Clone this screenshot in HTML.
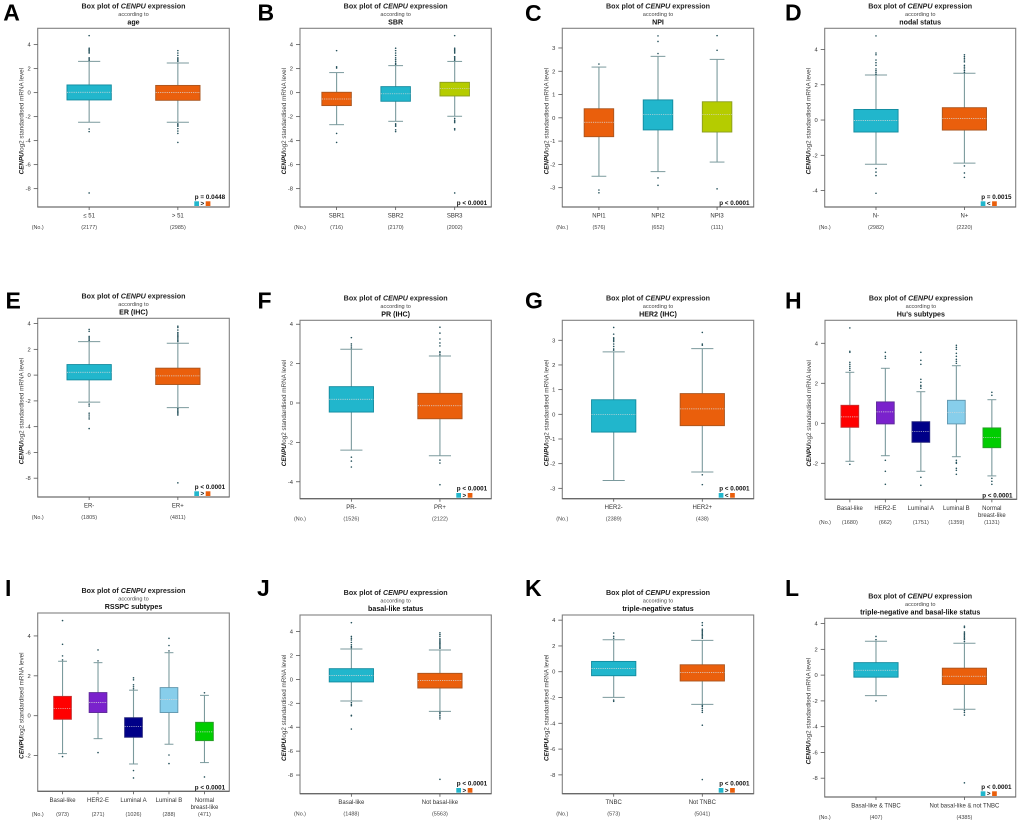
<!DOCTYPE html>
<html lang="en">
<head>
<meta charset="utf-8">
<title>CENPU expression box plots</title>
<style>
html,body{margin:0;padding:0;background:#fff;width:1020px;height:823px;overflow:hidden}
svg{display:block;filter:blur(0.3px)}
text{font-family:"Liberation Sans",Arial,sans-serif}
</style>
</head>
<body>
<svg id="figure" xmlns="http://www.w3.org/2000/svg" width="1020" height="823" viewBox="0 0 1020 823"></svg>
<script>
// ---------- DATA ----------
const categoriesA = ['≤ 51', '> 51'];
const countsA = [2177, 2985];
const ticksA = [-8, -6, -4, -2, 0, 2, 4];
const lowA = [-2.47, -2.47];
const q1A = [-0.61, -0.64];
const medianA = [0.03, 0];
const q3A = [0.64, 0.6];
const highA = [2.6, 2.47];
const outliersA = [[4.75, 3.7, 3.6, 3.5, 3.4, 3.3, 2.9, 2.8, 2.7, -3.03, -3.25, -8.36], [3.5, 3.3, 3.1, 2.9, 2.8, 2.7, 2.6, -2.6, -2.7, -2.8, -3, -3.2, -3.4, -4.15]];

const categoriesB = ['SBR1', 'SBR2', 'SBR3'];
const countsB = [716, 2170, 2002];
const ticksB = [-8, -6, -4, -2, 0, 2, 4];
const lowB = [-2.67, -2.39, -1.97];
const q1B = [-1.08, -0.72, -0.28];
const medianB = [-0.53, -0.1, 0.33];
const q3B = [0.03, 0.5, 0.86];
const highB = [1.67, 2.25, 2.6];
const outliersB = [[3.5, 2.15, 2.05, -3.4, -4.15], [3.7, 3.5, 3.3, 3.1, 2.9, 2.75, 2.6, 2.45, 2.35, -2.6, -2.7, -2.8, -3.1, -3.25], [4.75, 3.7, 3.6, 3.5, 3.4, 3.3, 3, 2.9, 2.8, 2.7, -2.15, -2.3, -2.4, -2.5, -3, -3.1, -8.36]];

const categoriesC = ['NPI1', 'NPI2', 'NPI3'];
const countsC = [576, 652, 111];
const ticksC = [-3, -2, -1, 0, 1, 2, 3];
const lowC = [-2.51, -2.31, -1.9];
const q1C = [-0.81, -0.52, -0.61];
const medianC = [-0.19, 0.15, 0.15];
const q3C = [0.39, 0.77, 0.69];
const highC = [2.18, 2.64, 2.51];
const outliersC = [[2.31, -3.1, -3.22], [3.52, 3.28, 2.76, -2.58, -2.9], [3.53, 2.9, -3.05]];

const categoriesD = ['N-', 'N+'];
const countsD = [2982, 2220];
const ticksD = [-4, -2, 0, 2, 4];
const lowD = [-2.51, -2.44];
const q1D = [-0.68, -0.57];
const medianD = [-0.02, 0.08];
const q3D = [0.6, 0.7];
const highD = [2.55, 2.65];
const outliersD = [[4.77, 3.8, 3.7, 3.4, 3.25, 3.1, 2.9, 2.8, 2.7, 2.6, -2.75, -2.95, -3.15, -4.15], [3.7, 3.6, 3.5, 3.4, 3.3, 3.1, 3, 2.9, 2.8, 2.7, -2.6, -3, -3.25]];

const categoriesE = ['ER-', 'ER+'];
const countsE = [1805, 4811];
const ticksE = [-8, -6, -4, -2, 0, 2, 4];
const lowE = [-2.1, -2.52];
const q1E = [-0.37, -0.73];
const medianE = [0.22, -0.06];
const q3E = [0.82, 0.54];
const highE = [2.6, 2.47];
const outliersE = [[3.55, 3.4, 3, 2.9, 2.8, 2.7, -2.25, -2.4, -2.95, -3.1, -3.25, -3.4, -4.15], [3.8, 3.7, 3.5, 3.3, 3.2, 3.1, 3, 2.9, 2.8, 2.7, 2.6, -2.6, -2.7, -2.8, -2.9, -3, -3.1, -8.36]];

const categoriesF = ['PR-', 'PR+'];
const countsF = [1526, 2122];
const ticksF = [-4, -2, 0, 2, 4];
const lowF = [-2.39, -2.68];
const q1F = [-0.46, -0.8];
const medianF = [0.19, -0.14];
const q3F = [0.83, 0.49];
const highF = [2.73, 2.39];
const outliersF = [[3.32, 3, 2.9, 2.8, -2.75, -2.95, -3.25], [3.85, 3.55, 3.25, 3.05, 2.9, 2.6, 2.55, 2.45, -2.9, -3.05, -4.15]];

const categoriesG = ['HER2-', 'HER2+'];
const countsG = [2389, 438];
const ticksG = [-3, -2, -1, 0, 1, 2, 3];
const lowG = [-2.68, -2.34];
const q1G = [-0.72, -0.46];
const medianG = [0, 0.22];
const q3G = [0.59, 0.84];
const highG = [2.53, 2.66];
const outliersG = [[3.52, 3.25, 3.1, 3.05, 3, 2.95, 2.85, 2.75, 2.65, 2.6], [3.32, 2.85, 2.8, -2.45, -2.85]];

const categoriesH = ['Basal-like', 'HER2-E', 'Luminal A', 'Luminal B', 'Normal\nbreast-like'];
const countsH = [1680, 662, 1751, 1359, 1131];
const ticksH = [-2, 0, 2, 4];
const lowH = [-1.9, -1.62, -2.4, -1.67, -2.63];
const q1H = [-0.2, -0.03, -0.95, -0.03, -1.22];
const medianH = [0.32, 0.57, -0.4, 0.55, -0.7];
const q3H = [0.9, 1.07, 0.08, 1.15, -0.23];
const highH = [2.55, 2.75, 1.58, 2.88, 1.18];
const outliersH = [[4.77, 3.6, 3.55, 3.05, 2.95, 2.85, 2.75, 2.65, -2.05], [3.55, 3.35, 3.25, -1.85, -2.4, -3.05], [3.55, 3.15, 2.95, 2.2, 2.05, 1.9, 1.85, 1.75, -2.7, -3.1], [3.9, 3.8, 3.7, 3.5, 3.35, 3.2, 3.1, 3, -1.85, -1.95, -2, -2.25, -2.35, -2.55], [1.55, 1.4, -2.75, -2.9, -3.05]];

const categoriesI = ['Basal-like', 'HER2-E', 'Luminal A', 'Luminal B', 'Normal\nbreast-like'];
const countsI = [973, 271, 1026, 288, 471];
const ticksI = [-2, 0, 2, 4];
const lowI = [-1.9, -1.15, -2.42, -1.43, -2.35];
const q1I = [-0.18, 0.16, -1.08, 0.16, -1.25];
const medianI = [0.37, 0.67, -0.55, 0.82, -0.81];
const q3I = [0.97, 1.16, -0.1, 1.41, -0.33];
const highI = [2.73, 2.66, 1.28, 3.16, 1.02];
const outliersI = [[4.77, 3.58, 3, 2.8, -2.05], [3.3, 2.75, -1.85], [1.9, 1.8, 1.55, 1.45, 1.35, -2.75, -3.12], [3.88, 3.52, 3.25, -1.97, -2.4], [1.15, -3.07]];

const categoriesJ = ['Basal-like', 'Not basal-like'];
const countsJ = [1488, 5563];
const ticksJ = [-8, -6, -4, -2, 0, 2, 4];
const lowJ = [-1.8, -2.67];
const q1J = [-0.21, -0.72];
const medianJ = [0.32, -0.08];
const q3J = [0.9, 0.51];
const highJ = [2.55, 2.46];
const outliersJ = [[4.75, 3.6, 3.45, 3.3, 3.1, 2.9, 2.75, 2.65, -1.95, -2.1, -2.2, -3, -3.05, -4.15], [3.9, 3.75, 3.6, 3.4, 3.3, 3.2, 3.1, 3, 2.9, 2.8, 2.7, 2.6, -2.75, -2.85, -3, -3.15, -3.3, -8.36]];

const categoriesK = ['TNBC', 'Not TNBC'];
const countsK = [573, 5041];
const ticksK = [-8, -6, -4, -2, 0, 2, 4];
const lowK = [-1.99, -2.53];
const q1K = [-0.31, -0.72];
const medianK = [0.26, -0.05];
const q3K = [0.8, 0.54];
const highK = [2.48, 2.43];
const outliersK = [[3, 2.75, 2.6, -2.2, -2.3], [3.8, 3.6, 3.3, 3.2, 3.1, 3, 2.9, 2.8, 2.7, 2.6, -2.6, -2.7, -2.85, -3, -3.15, -4.15, -8.36]];

const categoriesL = ['Basal-like & TNBC', 'Not basal-like & not TNBC'];
const countsL = [407, 4385];
const ticksL = [-8, -6, -4, -2, 0, 2, 4];
const lowL = [-1.59, -2.65];
const q1L = [-0.16, -0.73];
const medianL = [0.38, -0.09];
const q3L = [0.97, 0.54];
const highL = [2.63, 2.47];
const outliersL = [[3, 2.75, -2], [3.8, 3.7, 3.35, 3.25, 3.15, 3.05, 2.95, 2.85, 2.75, 2.6, -2.75, -2.9, -3.1, -8.36]];

// ---------- STYLE / LAYOUT ----------
const TEAL = ['#21b6cc', '#128a9e'];
const ORANGE = ['#ea5f0c', '#a9551f'];
const OLIVE = ['#b5cc00', '#8a9c20'];
const RED = ['#ff0000', '#c43030'];
const PURPLE = ['#7a22cc', '#5c2a96'];
const NAVY = ['#000088', '#26267a'];
const SKY = ['#87ceeb', '#5f95ad'];
const GREEN = ['#00cd00', '#2a9a2a'];

const panels = [
  {id:'A', letterX:3.3, letterY:20.7, L:37.7, T:28.3, R:229.3, B:207, dom:[5.36,-9.53], subtitle:'age', cols:[TEAL,ORANGE], p:'p = 0.0448', sym:'>', cat:categoriesA, cnt:countsA, tk:ticksA, lo:lowA, q1:q1A, md:medianA, q3:q3A, hi:highA, out:outliersA},
  {id:'B', letterX:257.5, letterY:20.7, L:300, T:28.3, R:491.3, B:207, dom:[5.36,-9.53], subtitle:'SBR', cols:[ORANGE,TEAL,OLIVE], p:'p < 0.0001', sym:null, cat:categoriesB, cnt:countsB, tk:ticksB, lo:lowB, q1:q1B, md:medianB, q3:q3B, hi:highB, out:outliersB},
  {id:'C', letterX:525, letterY:21, L:562.3, T:28.3, R:753.7, B:207, dom:[3.845,-3.83], subtitle:'NPI', cols:[ORANGE,TEAL,OLIVE], p:'p < 0.0001', sym:null, cat:categoriesC, cnt:countsC, tk:ticksC, lo:lowC, q1:q1C, md:medianC, q3:q3C, hi:highC, out:outliersC},
  {id:'D', letterX:785, letterY:20.7, L:824.7, T:28.3, R:1015.7, B:207, dom:[5.2,-4.93], subtitle:'nodal status', cols:[TEAL,ORANGE], p:'p = 0.0015', sym:'<', cat:categoriesD, cnt:countsD, tk:ticksD, lo:lowD, q1:q1D, md:medianD, q3:q3D, hi:highD, out:outliersD},
  {id:'E', letterX:5.5, letterY:308.3, L:37.7, T:318.3, R:229.3, B:497, dom:[4.41,-9.46], subtitle:'ER (IHC)', cols:[TEAL,ORANGE], p:'p < 0.0001', sym:'>', cat:categoriesE, cnt:countsE, tk:ticksE, lo:lowE, q1:q1E, md:medianE, q3:q3E, hi:highE, out:outliersE},
  {id:'F', letterX:257.5, letterY:308.3, L:300, T:320.3, R:491.3, B:498.7, dom:[4.2,-4.86], subtitle:'PR (IHC)', cols:[TEAL,ORANGE], p:'p < 0.0001', sym:'>', cat:categoriesF, cnt:countsF, tk:ticksF, lo:lowF, q1:q1F, md:medianF, q3:q3F, hi:highF, out:outliersF},
  {id:'G', letterX:525, letterY:308.7, L:562.3, T:320.3, R:753.7, B:498.7, dom:[3.81,-3.42], subtitle:'HER2 (IHC)', cols:[TEAL,ORANGE], p:'p < 0.0001', sym:'<', cat:categoriesG, cnt:countsG, tk:ticksG, lo:lowG, q1:q1G, md:medianG, q3:q3G, hi:highG, out:outliersG},
  {id:'H', letterX:785, letterY:308.7, L:825, T:320.3, R:1016.7, B:499.3, dom:[5.15,-3.8], subtitle:"Hu's subtypes", cols:[RED,PURPLE,NAVY,SKY,GREEN], p:'p < 0.0001', sym:null, cat:categoriesH, cnt:countsH, tk:ticksH, lo:lowH, q1:q1H, md:medianH, q3:q3H, hi:highH, out:outliersH},
  {id:'I', letterX:5, letterY:596, L:37.7, T:613, R:229.3, B:791.3, dom:[5.15,-3.79], subtitle:'RSSPC subtypes', cols:[RED,PURPLE,NAVY,SKY,GREEN], p:'p < 0.0001', sym:null, cat:categoriesI, cnt:countsI, tk:ticksI, lo:lowI, q1:q1I, md:medianI, q3:q3I, hi:highI, out:outliersI},
  {id:'J', letterX:257, letterY:596, L:300, T:615, R:491.3, B:793.7, dom:[5.39,-9.56], subtitle:'basal-like status', cols:[TEAL,ORANGE], p:'p < 0.0001', sym:'>', cat:categoriesJ, cnt:countsJ, tk:ticksJ, lo:lowJ, q1:q1J, md:medianJ, q3:q3J, hi:highJ, out:outliersJ},
  {id:'K', letterX:525, letterY:596, L:562.3, T:615, R:753.7, B:793.7, dom:[4.4,-9.46], subtitle:'triple-negative status', cols:[TEAL,ORANGE], p:'p < 0.0001', sym:'>', cat:categoriesK, cnt:countsK, tk:ticksK, lo:lowK, q1:q1K, md:medianK, q3:q3K, hi:highK, out:outliersK},
  {id:'L', letterX:785, letterY:596, L:824.7, T:618.3, R:1015.7, B:797, dom:[4.41,-9.46], subtitle:'triple-negative and basal-like status', cols:[TEAL,ORANGE], p:'p < 0.0001', sym:'>', cat:categoriesL, cnt:countsL, tk:ticksL, lo:lowL, q1:q1L, md:medianL, q3:q3L, hi:highL, out:outliersL}
];

// ---------- DRAWING ----------
const NS = 'http://www.w3.org/2000/svg';
const figure = document.getElementById('figure');

function make(tag, attrs, parent, content) {
  const node = document.createElementNS(NS, tag);
  for (const k in attrs) node.setAttribute(k, attrs[k]);
  if (content !== undefined) node.textContent = content;
  parent.appendChild(node);
  return node;
}

function drawPanel(cfg) {
  const g = make('g', {}, figure);
  
  

  const n = cfg.cat.length;
  const unit = (cfg.R - cfg.L) / (n * 1.08);
  const xScale = i => cfg.L + unit * (0.5 + 0.04 * n + i);
  const yScale = v => cfg.T + (cfg.dom[0] - v) / (cfg.dom[0] - cfg.dom[1]) * (cfg.B - cfg.T);
  const cx = (cfg.L + cfg.R) / 2;

  const letter = make('text', {x: cfg.letterX, y: cfg.letterY, 'font-size': 23, 'font-weight': 700, fill: '#000'}, g, cfg.id);
  
  

  const title = make('text', {x: cx, y: cfg.T - 20, 'font-size': 7.15, 'font-weight': 700, fill: '#222', 'text-anchor': 'middle'}, g);
  
  
  make('tspan', {}, title, 'Box plot of ');
  make('tspan', {'font-style': 'italic'}, title, 'CENPU');
  make('tspan', {}, title, ' expression');

  const according = make('text', {x: cx, y: cfg.T - 12.3, 'font-size': 5.6, fill: '#444', 'text-anchor': 'middle'}, g, 'according to');
  
  

  const sub = make('text', {x: cx, y: cfg.T - 4, 'font-size': 7.1, 'font-weight': 700, fill: '#111', 'text-anchor': 'middle'}, g, cfg.subtitle);
  
  

  const frame = make('rect', {x: cfg.L, y: cfg.T, width: cfg.R - cfg.L, height: cfg.B - cfg.T, fill: '#fff', stroke: '#808080', 'stroke-width': 1.1}, g);
  
  
  const baseLine = make('line', {x1: cfg.L, x2: cfg.R, y1: cfg.B, y2: cfg.B, stroke: '#555', 'stroke-width': 1}, g);
  
  

  const yTitle = make('text', {transform: 'translate(' + (cfg.L - 14) + ',' + ((cfg.T + cfg.B) / 2 + 3.5) + ') rotate(-90)', 'font-size': 6.3, fill: '#444', 'text-anchor': 'middle'}, g);
  
  
  make('tspan', {'font-style': 'italic', 'font-weight': 700, fill: '#111'}, yTitle, 'CENPU');
  make('tspan', {}, yTitle, 'log2 standardised mRNA level');

  cfg.tk.forEach(function (t) {
    const tick = make('line', {x1: cfg.L - 4, x2: cfg.L, y1: yScale(t), y2: yScale(t), stroke: '#555', 'stroke-width': 0.8}, g);
    
    
    const label = make('text', {x: cfg.L - 7, y: yScale(t) + 2, 'font-size': 5.8, fill: '#333', 'text-anchor': 'end'}, g, String(t));
    
    
  });

  const countY = cfg.B + (n === 5 ? 24.8 : 21.8);
  const noLabel = make('text', {x: cfg.L, y: countY, 'font-size': 5.4, fill: '#444', 'text-anchor': 'middle'}, g, '(No.)');
  
  

  cfg.cat.forEach(function (name, i) {
    const x = xScale(i);
    const boxHalf = unit * 0.25;
    const capHalf = unit * 0.125;
    const group = make('g', {}, g);
    
    

    const xTick = make('line', {x1: x, x2: x, y1: cfg.B, y2: cfg.B + 3, stroke: '#555', 'stroke-width': 0.8}, group);
    
    

    const stem = make('line', {x1: x, x2: x, y1: yScale(cfg.hi[i]), y2: yScale(cfg.lo[i]), stroke: '#7b9a9d', 'stroke-width': 1.1}, group);
    
    
    const capHigh = make('line', {x1: x - capHalf, x2: x + capHalf, y1: yScale(cfg.hi[i]), y2: yScale(cfg.hi[i]), stroke: '#7b9a9d', 'stroke-width': 1}, group);
    
    
    const capLow = make('line', {x1: x - capHalf, x2: x + capHalf, y1: yScale(cfg.lo[i]), y2: yScale(cfg.lo[i]), stroke: '#7b9a9d', 'stroke-width': 1}, group);
    
    

    const box = make('rect', {x: x - boxHalf, y: yScale(cfg.q3[i]), width: boxHalf * 2, height: yScale(cfg.q1[i]) - yScale(cfg.q3[i]), fill: cfg.cols[i][0], stroke: cfg.cols[i][1], 'stroke-width': 0.9}, group);
    
    

    const median = make('line', {x1: x - boxHalf, x2: x + boxHalf, y1: yScale(cfg.md[i]), y2: yScale(cfg.md[i]), stroke: '#d8d8d8', 'stroke-width': 0.7, 'stroke-dasharray': '1.2 1'}, group);
    
    

    cfg.out[i].forEach(function (v) {
      const dot = make('circle', {cx: x, cy: yScale(v), r: 0.8, fill: '#24505a'}, group);
      
      
    });

    name.split('\n').forEach(function (line, j) {
      const label = make('text', {x: x, y: cfg.B + 10.5 + j * 7.4, 'font-size': 6, fill: '#333', 'text-anchor': 'middle'}, group, line);
      
      
    });

    const count = make('text', {x: x, y: countY, 'font-size': 5.5, fill: '#444', 'text-anchor': 'middle'}, group, '(' + cfg.cnt[i] + ')');
    
    
  });

  const pText = make('text', {x: cfg.R - 4.2, y: cfg.sym ? cfg.B - 8 : cfg.B - 2, 'font-size': 6.3, 'font-weight': 700, fill: '#111', 'text-anchor': 'end'}, g, cfg.p);
  
  

  if (cfg.sym) {
    const swatchA = make('rect', {x: cfg.R - 35, y: cfg.B - 5.7, width: 4.7, height: 4.7, fill: cfg.cols[0][0]}, g);
    
    
    const sym = make('text', {x: cfg.R - 27, y: cfg.B - 1.4, 'font-size': 6.3, 'font-weight': 700, fill: '#111', 'text-anchor': 'middle'}, g, cfg.sym);
    
    
    const swatchB = make('rect', {x: cfg.R - 23.6, y: cfg.B - 5.7, width: 4.7, height: 4.7, fill: cfg.cols[1][0]}, g);
    
    
  }
}

panels.forEach(drawPanel);
</script>
</body>
</html>
